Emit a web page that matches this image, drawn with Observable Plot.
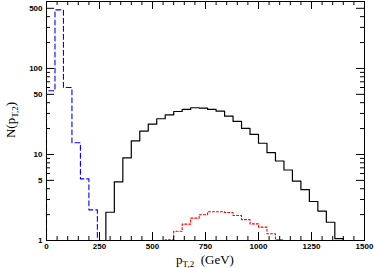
<!DOCTYPE html>
<html>
<head>
<meta charset="utf-8">
<script src="https://cdn.jsdelivr.net/npm/d3@7"></script>
<script src="https://cdn.jsdelivr.net/npm/@observablehq/plot@0.6"></script>
<style>
  html, body { margin: 0; padding: 0; background: #fff; }
  #chart svg { display: block; }
</style>
</head>
<body>
<div id="chart"></div>
<script>
// Bin edges (GeV) and counts per bin
const blueEdges = [0, 40, 80, 120, 160, 200, 240];
const blueCounts = [55, 480, 60, 13.7, 5.2, 2.27];

const blackEdges = [280, 320, 360, 400, 440, 480, 520, 560, 600, 640, 680, 720, 760, 800, 840,
  880, 920, 960, 1000, 1040, 1080, 1120, 1160, 1200, 1240, 1280, 1320, 1360, 1400];
const blackCounts = [2.13, 4.81, 9.15, 14.4, 18.7, 22.5, 26.0, 28.9, 31.6, 33.4, 34.9, 34.6, 33.4, 31.9,
  27.9, 24.2, 20.1, 17.1, 13.5, 10.5, 8.4, 6.6, 4.9, 3.9, 2.84, 2.2, 1.63, 1.05];

const redEdges = [560, 600, 640, 680, 720, 760, 800, 840, 880, 920, 960, 1000, 1040, 1080, 1120];
const redCounts = [1.02, 1.28, 1.55, 1.82, 1.99, 2.16, 2.16, 2.12, 1.95, 1.75, 1.56, 1.43, 1.2, 1.02];

// Tick values
const xMajor = [0, 250, 500, 750, 1000, 1250, 1500];
const xMinor = [50, 100, 150, 200, 300, 350, 400, 450, 550, 600, 650, 700, 800, 850, 900, 950,
  1050, 1100, 1150, 1200, 1300, 1350, 1400, 1450];
const yMajor = [1, 5, 10, 50, 100, 500];
const yMinor = [2, 3, 4, 6, 7, 8, 9, 20, 30, 40, 60, 70, 80, 90, 200, 300, 400];

function steps(edges, counts) {
  const pts = [{x: edges[0], y: 1}];
  counts.forEach((c, i) => pts.push({x: edges[i], y: c}));
  const last = edges[edges.length - 1];
  pts.push({x: last, y: counts[counts.length - 1]});
  pts.push({x: last, y: 1});
  return pts;
}

const W = 374, H = 268, ML = 46, MR = 10, MT = 1, MB = 28;
const PW = W - ML - MR, PH = H - MT - MB;
const BIG = 8, SMALL = 4;
const fmt = d => String(d);
const lab = {fontWeight: "bold", fontSize: 8, fill: "black"};

const chart = Plot.plot({
  width: W,
  height: H,
  marginLeft: ML,
  marginRight: MR,
  marginTop: MT,
  marginBottom: MB,
  style: {fontFamily: "'Liberation Sans', Arial, sans-serif", background: "white"},
  x: {domain: [0, 1500], axis: null},
  y: {type: "log", domain: [1, 600], axis: null},
  marks: [
    Plot.line(steps(blueEdges, blueCounts), {x: "x", y: "y", curve: "step-after", stroke: "#0000ff", strokeWidth: 1.1, strokeDasharray: "5,3"}),
    Plot.line(steps(blackEdges, blackCounts), {x: "x", y: "y", curve: "step-after", stroke: "black", strokeWidth: 1.2}),
    Plot.line(steps(redEdges, redCounts), {x: "x", y: "y", curve: "step-after", stroke: "#ff0000", strokeWidth: 1.1, strokeDasharray: "2,2"}),
    // inward ticks on all four sides
    Plot.ruleX(xMajor, {x: d => d, insetTop: PH - BIG, stroke: "black"}),
    Plot.ruleX(xMinor, {x: d => d, insetTop: PH - SMALL, stroke: "black"}),
    Plot.ruleX(xMajor, {x: d => d, insetBottom: PH - BIG, stroke: "black"}),
    Plot.ruleX(xMinor, {x: d => d, insetBottom: PH - SMALL, stroke: "black"}),
    Plot.ruleY(yMajor, {y: d => d, insetRight: PW - BIG, stroke: "black"}),
    Plot.ruleY(yMinor, {y: d => d, insetRight: PW - SMALL, stroke: "black"}),
    Plot.ruleY(yMajor, {y: d => d, insetLeft: PW - BIG, stroke: "black"}),
    Plot.ruleY(yMinor, {y: d => d, insetLeft: PW - SMALL, stroke: "black"}),
    // tick labels
    Plot.text(xMajor, {x: d => d, text: fmt, frameAnchor: "bottom", lineAnchor: "top", dy: 3, ...lab}),
    Plot.text(yMajor, {y: d => d, text: fmt, frameAnchor: "left", textAnchor: "end", dx: -4, ...lab}),
    Plot.frame({stroke: "black", strokeWidth: 1})
  ]
});

document.getElementById("chart").appendChild(chart);

// axis titles with subscripts
const svg = d3.select(chart);
const xt = svg.append("text")
  .attr("x", 205).attr("y", 264)
  .attr("text-anchor", "middle")
  .attr("font-family", "'Liberation Serif', 'DejaVu Serif', serif")
  .attr("font-size", 13)
  .attr("fill", "black");
xt.append("tspan").text("p");
xt.append("tspan").attr("font-size", 9).attr("dy", 3).text("T,2");
xt.append("tspan").attr("dy", -3).text("\u00a0\u00a0(GeV)");

const yt = svg.append("text")
  .attr("transform", "translate(15,120) rotate(-90)")
  .attr("text-anchor", "middle")
  .attr("font-family", "'Liberation Serif', 'DejaVu Serif', serif")
  .attr("font-size", 13)
  .attr("fill", "black");
yt.append("tspan").text("N(p");
yt.append("tspan").attr("font-size", 9).attr("dy", 3).text("T,2");
yt.append("tspan").attr("dy", -3).text(")");
</script>
</body>
</html>
